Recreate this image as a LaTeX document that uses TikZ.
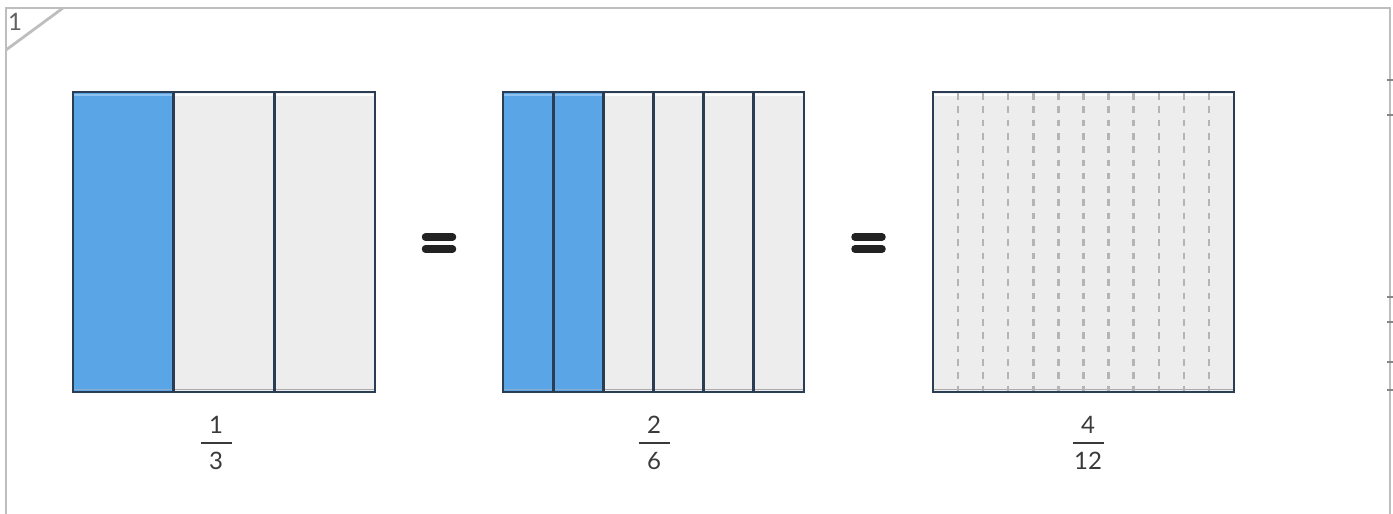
\documentclass[tikz,border=0pt]{standalone}
\usepackage{fontspec}
\setmainfont{Lato}
\usetikzlibrary{positioning}
\definecolor{barblue}{HTML}{5AA5E6}
\definecolor{barbluelt}{HTML}{8FC2EE}
\definecolor{barbluedk}{HTML}{86ABCF}
\definecolor{bargray}{HTML}{EDEDED}
\definecolor{bargraydk}{HTML}{ABABAB}
\definecolor{barline}{HTML}{2B3D55}
\definecolor{framegray}{HTML}{BEBEBE}
\definecolor{dashgray}{HTML}{B4B4B8}
\definecolor{eqblack}{HTML}{222222}
\definecolor{fraccol}{HTML}{3A3A3A}

\begin{document}
\begin{tikzpicture}[x=1pt, y=-1pt,
  frame/.style={draw=framegray, line width=2.8pt},
  cell/.style={draw=barline, line width=2.7pt},
  cut/.style={dashgray, line width=2.4pt, dash pattern=on 6.6pt off 6.7pt},
  eqbar/.style={eqblack, line width=7.5pt, line cap=round},
  fracbar/.style={fraccol, line width=2pt},
  frac/.style={font=\fontsize{24}{26}\selectfont, text=fraccol, inner sep=0pt},
  tick/.style={framegray!70!black, line width=1.5pt}
]
  \useasboundingbox (0,0) rectangle (1393,514);

  % page frame
  \draw[frame] (6,514) -- (6,8) -- (1390,8) -- (1390,514);
  \draw[frame] (6,50) -- (63,8);
  \node[frac, text=fraccol!80] (page) at (15,22) {1};
  \foreach \ty in {80,115,297,322,362,390}
    \draw[tick] (1387,\ty) -- (1393,\ty);

  % one third
  \foreach \i/\col/\lt/\dk in {0/barblue/barbluelt/barbluedk, 1/bargray/white/bargraydk, 2/bargray/white/bargraydk} {
    \fill[\col] (73+\i*302/3,92) rectangle (73+\i*302/3+302/3,392);
    \draw[\lt, line width=1.5pt] (74+\i*302/3,95) -- (72+\i*302/3+302/3,95);
    \draw[\dk, line width=1.5pt] (74+\i*302/3,389.5) -- (72+\i*302/3+302/3,389.5);
    \draw[cell] (73+\i*302/3,92) rectangle (73+\i*302/3+302/3,392);
  }

  % two sixths
  \foreach \i/\col/\lt/\dk in {0/barblue/barbluelt/barbluedk, 1/barblue/barbluelt/barbluedk, 2/bargray/white/bargraydk,
                               3/bargray/white/bargraydk, 4/bargray/white/bargraydk, 5/bargray/white/bargraydk} {
    \fill[\col] (503+\i*301/6,92) rectangle (503+\i*301/6+301/6,392);
    \draw[\lt, line width=1.5pt] (504+\i*301/6,95) -- (502+\i*301/6+301/6,95);
    \draw[\dk, line width=1.5pt] (504+\i*301/6,389.5) -- (502+\i*301/6+301/6,389.5);
    \draw[cell] (503+\i*301/6,92) rectangle (503+\i*301/6+301/6,392);
  }

  % twelfths, not yet shaded
  \fill[bargray] (933,92) rectangle (1234,392);
  \draw[white, line width=1.5pt] (934,95) -- (1233,95);
  \draw[bargraydk, line width=1.5pt] (934,389.5) -- (1233,389.5);
  \foreach \k in {1,...,11}
    \draw[cut] (933+\k*301/12,93) -- (933+\k*301/12,392);
  \draw[cell] (933,92) rectangle (1234,392);

  % equal signs
  \foreach \ex in {425.5, 855} {
    \draw[eqbar] (\ex,237) -- (\ex+27,237);
    \draw[eqbar] (\ex,249) -- (\ex+27,249);
  }

  % fractions
  \foreach \cx/\num/\den [count=\i] in {216/1/3, 654/2/6, 1088/4/12} {
    \node[frac, anchor=base] (num\i) at (\cx,433) {\num};
    \node[frac, anchor=base] (den\i) at (\cx,469) {\den};
    \draw[fracbar] (\cx-15.5,443) -- (\cx+15.5,443);
  }
\end{tikzpicture}
\end{document}
